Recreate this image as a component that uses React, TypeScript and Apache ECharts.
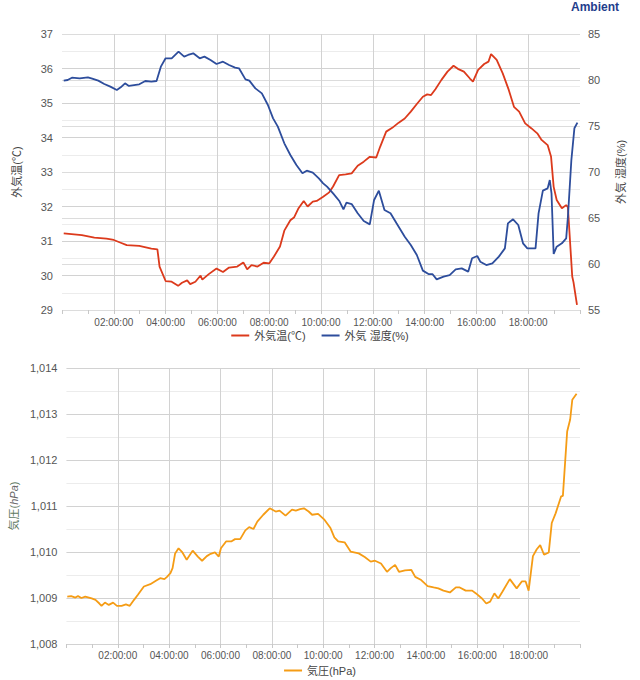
import React, { useEffect, useRef } from 'react';
import * as echarts from 'echarts';

const tempTimes = ['00:04','00:46','01:15','01:43','02:00','02:16','02:30','02:59','03:27','03:41','03:46','04:00','04:14','04:29','04:38','04:50','04:57','05:09','05:21','05:25','05:40','05:58','06:13','06:27','06:46','07:00','07:09','07:19','07:33','07:47','08:00','08:11','08:25','08:35','08:49','08:58','09:08','09:20','09:29','09:41','09:50','10:05','10:19','10:28','10:42','10:57','11:11','11:25','11:39','11:53','12:08','12:17','12:31','12:45','13:00','13:14','13:28','13:42','13:56','14:06','14:15','14:25','14:39','14:53','15:07','15:17','15:31','15:45','15:52','16:04','16:18','16:28','16:34','16:47','17:01','17:15','17:27','17:39','17:53','18:07','18:21','18:31','18:45','18:53','18:59','19:06','19:18','19:28','19:32','19:42','19:45','19:53'];
const tempValues = [31.22,31.17,31.10,31.07,31.03,30.95,30.88,30.86,30.78,30.76,30.26,29.84,29.82,29.70,29.79,29.86,29.75,29.82,30.00,29.88,30.04,30.20,30.10,30.23,30.26,30.38,30.18,30.30,30.26,30.37,30.35,30.55,30.84,31.30,31.60,31.69,31.95,32.16,32.00,32.14,32.16,32.28,32.41,32.58,32.91,32.93,32.96,33.18,33.30,33.44,33.42,33.73,34.17,34.28,34.43,34.55,34.75,34.97,35.18,35.25,35.23,35.40,35.67,35.91,36.08,35.99,35.91,35.71,35.62,35.96,36.13,36.20,36.42,36.25,35.86,35.38,34.89,34.75,34.41,34.27,34.12,33.93,33.78,33.44,32.57,32.19,31.95,32.04,31.98,29.97,29.80,29.15];

const humTimes = ['00:04','00:13','00:23','00:41','01:00','01:10','01:24','01:38','01:52','02:07','02:16','02:26','02:35','02:59','03:13','03:27','03:39','03:49','04:00','04:14','04:30','04:43','04:52','05:04','05:19','05:30','05:44','05:58','06:13','06:27','06:41','06:50','07:05','07:14','07:28','07:43','07:57','08:09','08:20','08:35','08:49','09:03','09:17','09:27','09:41','09:55','10:05','10:14','10:28','10:42','10:52','10:59','11:11','11:25','11:39','11:53','12:03','12:14','12:27','12:41','12:55','13:14','13:28','13:42','13:56','14:09','14:18','14:28','14:44','14:58','15:12','15:26','15:41','15:50','16:02','16:09','16:23','16:37','16:52','17:06','17:13','17:25','17:37','17:48','17:58','18:17','18:24','18:34','18:45','18:50','18:54','18:59','19:06','19:18','19:28','19:32','19:40','19:47','19:54'];
const humValues = [79.93,80.00,80.25,80.18,80.29,80.14,79.93,79.57,79.28,78.91,79.20,79.64,79.35,79.53,79.89,79.82,79.89,81.45,82.36,82.36,83.08,82.54,82.72,82.90,82.36,82.54,82.17,81.74,81.99,81.63,81.34,81.27,80.07,79.93,79.09,78.55,77.28,75.83,74.93,73.12,71.85,70.76,69.86,70.14,69.93,69.31,68.77,68.41,67.68,66.88,65.94,66.67,66.52,65.51,64.67,64.31,66.96,67.97,65.87,65.51,64.42,62.97,62.07,60.98,59.28,58.91,58.91,58.33,58.62,58.80,59.42,59.53,59.17,60.62,60.87,60.25,59.89,60.07,60.80,61.70,64.42,64.86,64.24,62.25,61.70,61.70,65.51,67.97,68.22,69.13,67.68,61.09,61.88,62.25,62.79,65.14,71.30,74.75,75.36];

const presTimes = ['00:02','00:11','00:21','00:27','00:35','00:44','00:59','01:08','01:17','01:22','01:30','01:39','01:49','01:58','02:09','02:19','02:28','02:38','02:47','03:01','03:16','03:30','03:39','03:49','03:55','04:03','04:08','04:14','04:22','04:31','04:41','04:55','05:07','05:17','05:28','05:37','05:47','05:56','06:01','06:13','06:25','06:34','06:46','06:58','07:07','07:17','07:26','07:40','07:55','08:09','08:18','08:32','08:47','08:56','09:06','09:15','09:26','09:34','09:48','10:02','10:17','10:26','10:35','10:50','11:04','11:23','11:37','11:51','12:01','12:15','12:29','12:38','12:48','12:57','13:11','13:26','13:35','13:49','14:04','14:18','14:29','14:41','14:56','15:10','15:19','15:33','15:48','15:57','16:11','16:21','16:30','16:40','16:49','16:59','17:16','17:32','17:44','17:53','18:00','18:10','18:19','18:27','18:36','18:47','18:54','19:03','19:16','19:20','19:30','19:37','19:42','19:52'];
const presValues = [1009.03,1009.04,1009.01,1009.04,1009.00,1009.03,1008.99,1008.96,1008.88,1008.83,1008.90,1008.85,1008.90,1008.83,1008.83,1008.86,1008.83,1008.96,1009.07,1009.25,1009.30,1009.38,1009.43,1009.41,1009.46,1009.54,1009.65,1009.97,1010.08,1009.99,1009.83,1010.03,1009.90,1009.81,1009.91,1009.96,1009.99,1009.90,1010.08,1010.23,1010.23,1010.28,1010.28,1010.47,1010.54,1010.50,1010.66,1010.81,1010.95,1010.88,1010.90,1010.79,1010.92,1010.90,1010.93,1010.95,1010.88,1010.81,1010.83,1010.71,1010.52,1010.32,1010.23,1010.21,1010.01,1009.97,1009.89,1009.79,1009.81,1009.75,1009.57,1009.65,1009.72,1009.57,1009.60,1009.61,1009.46,1009.39,1009.26,1009.23,1009.21,1009.16,1009.12,1009.23,1009.23,1009.16,1009.16,1009.10,1008.99,1008.88,1008.92,1009.10,1008.99,1009.14,1009.41,1009.21,1009.36,1009.36,1009.16,1009.91,1010.06,1010.15,1009.94,1009.99,1010.63,1010.84,1011.21,1011.22,1012.62,1012.88,1013.31,1013.44];

const tempAxis = { min: 29, max: 37, interval: 1 };
const humAxis = { min: 55, max: 85, interval: 5 };
const presAxis = { min: 1008, max: 1014, interval: 1 };
const hourAxis = { min: 0, max: 20, interval: 2 };

const FONT = "'Liberation Sans', Arial, 'Noto Sans CJK JP', sans-serif";
const RED = '#dc3a1c';
const BLUE = '#2d4d9c';
const ORANGE = '#f59c15';
const GRID = '#d2d2d2';
const MINOR = '#ececec';
const LABEL = '#555';

function toHours(s: string) {
  const [h, m] = s.split(':').map(Number);
  return h + m / 60;
}
function pair(times: string[], vals: number[]) {
  return times.map((t, i) => [toHours(t), vals[i]]);
}
function pad(n: number) {
  return (n < 10 ? '0' : '') + n;
}

function xAxis(gridIndex: number, margin: number) {
  return {
    type: 'value',
    gridIndex,
    min: hourAxis.min,
    max: hourAxis.max,
    interval: hourAxis.interval,
    axisLine: { show: false },
    axisTick: { show: true, length: 4, lineStyle: { color: '#c8c8c8' } },
    minorTick: { show: true, splitNumber: 2, length: 4, lineStyle: { color: '#c8c8c8' } },
    axisLabel: {
      margin,
      fontSize: 10,
      color: LABEL,
      fontFamily: FONT,
      formatter: (v: number) => (v > hourAxis.min && v < hourAxis.max ? `${pad(v)}:00:00` : ''),
    },
    splitLine: { show: true, showMinLine: false, showMaxLine: false, lineStyle: { color: GRID, width: 1 } },
  };
}

export default function App() {
  const ref = useRef<HTMLDivElement>(null);
  useEffect(() => {
    if (!ref.current) return;
    const chart = echarts.init(ref.current, undefined, { renderer: 'svg' });
    chart.setOption({
      animation: false,
      textStyle: { fontFamily: FONT },
      title: {
        text: 'Ambient',
        right: 21,
        top: 1,
        padding: 0,
        textStyle: { fontSize: 12, fontWeight: 'bold', color: '#1f3d8c', fontFamily: FONT },
      },
      grid: [
        { left: 62, top: 34, width: 518, height: 276 },
        { left: 62, top: 368, width: 518, height: 276 },
      ],
      legend: [
        {
          data: ['外気温(℃)', '外気 湿度(%)'],
          top: 325,
          left: 'center',
          icon: 'rect',
          itemWidth: 18,
          itemHeight: 2,
          itemGap: 16,
          textStyle: { fontSize: 11, color: '#444', fontFamily: FONT },
        },
        {
          data: ['気圧(hPa)'],
          top: 660,
          left: 'center',
          icon: 'rect',
          itemWidth: 18,
          itemHeight: 2,
          textStyle: { fontSize: 11, color: '#444', fontFamily: FONT },
        },
      ],
      xAxis: [xAxis(0, 7), xAxis(1, 6)],
      yAxis: [
        {
          type: 'value',
          gridIndex: 0,
          min: tempAxis.min,
          max: tempAxis.max,
          interval: tempAxis.interval,
          name: '外気温(℃)',
          nameLocation: 'middle',
          nameRotate: 90,
          nameGap: 40,
          nameTextStyle: { fontSize: 11, color: '#444', fontFamily: FONT },
          axisLine: { show: false },
          axisTick: { show: false },
          axisLabel: { fontSize: 11, color: LABEL, margin: 9, fontFamily: FONT },
          splitLine: { show: true, lineStyle: { color: GRID } },
          minorSplitLine: { show: true, lineStyle: { color: MINOR } },
          minorTick: { show: false, splitNumber: 2 },
        },
        {
          type: 'value',
          gridIndex: 0,
          position: 'right',
          min: humAxis.min,
          max: humAxis.max,
          interval: humAxis.interval,
          name: '外気 湿度(%)',
          nameLocation: 'middle',
          nameRotate: 90,
          nameGap: 35,
          nameTextStyle: { fontSize: 11, color: '#444', fontFamily: FONT },
          axisLine: { show: false },
          axisTick: { show: false },
          axisLabel: { fontSize: 11, color: LABEL, margin: 8, fontFamily: FONT },
          splitLine: { show: true, lineStyle: { color: '#dcdcdc' } },
        },
        {
          type: 'value',
          gridIndex: 1,
          min: presAxis.min,
          max: presAxis.max,
          interval: presAxis.interval,
          name: '気圧({i|hPa})',
          nameLocation: 'middle',
          nameRotate: 90,
          nameGap: 42,
          nameTextStyle: {
            fontSize: 11,
            color: '#5f7a62',
            fontFamily: FONT,
            rich: { i: { fontSize: 11, fontStyle: 'italic', color: '#666', fontFamily: FONT } },
          },
          axisLine: { show: false },
          axisTick: { show: false },
          axisLabel: {
            fontSize: 11,
            color: LABEL,
            margin: 9,
            fontFamily: FONT,
            formatter: (v: number) => v.toLocaleString('en-US'),
          },
          splitLine: { show: true, lineStyle: { color: GRID } },
          minorSplitLine: { show: true, lineStyle: { color: MINOR } },
          minorTick: { show: false, splitNumber: 2 },
        },
      ],
      series: [
        {
          name: '外気温(℃)',
          type: 'line',
          xAxisIndex: 0,
          yAxisIndex: 0,
          showSymbol: false,
          color: RED,
          lineStyle: { width: 1.8, color: RED },
          data: pair(tempTimes, tempValues),
        },
        {
          name: '外気 湿度(%)',
          type: 'line',
          xAxisIndex: 0,
          yAxisIndex: 1,
          showSymbol: false,
          color: BLUE,
          lineStyle: { width: 1.8, color: BLUE },
          data: pair(humTimes, humValues),
        },
        {
          name: '気圧(hPa)',
          type: 'line',
          xAxisIndex: 1,
          yAxisIndex: 2,
          showSymbol: false,
          color: ORANGE,
          lineStyle: { width: 1.8, color: ORANGE },
          data: pair(presTimes, presValues),
        },
      ],
    });
    return () => chart.dispose();
  }, []);
  return (
    <div
      ref={ref}
      style={{ position: 'absolute', left: 0, top: 0, width: 640, height: 680, background: '#fff' }}
    />
  );
}
